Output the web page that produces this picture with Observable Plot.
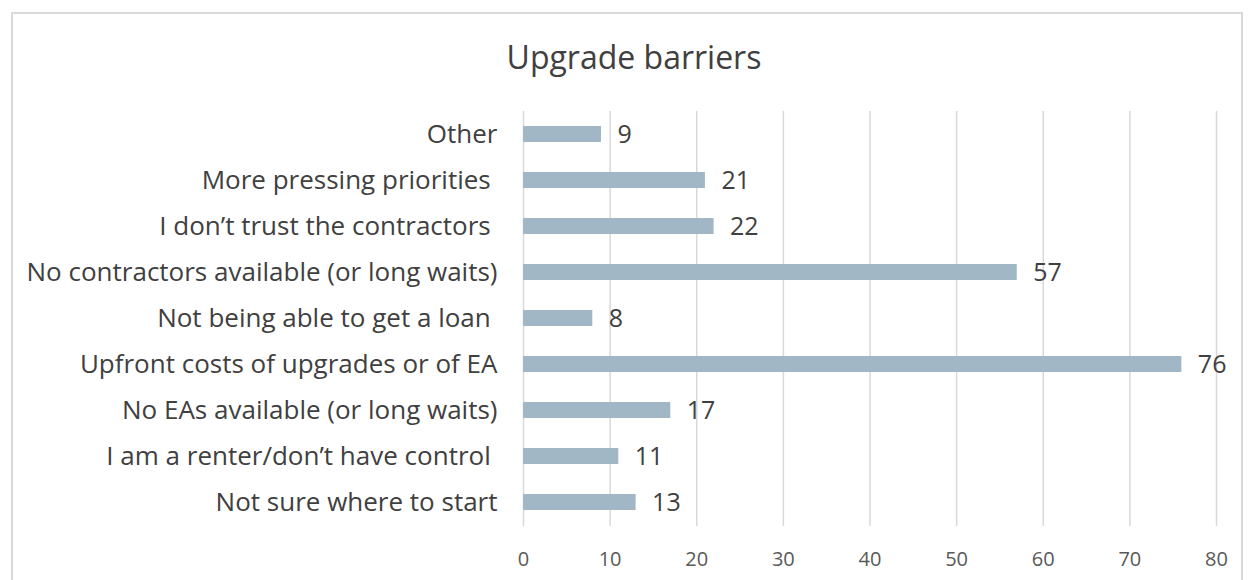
<!DOCTYPE html>
<html>
<head>
<meta charset="utf-8">
<script src="https://cdn.jsdelivr.net/npm/d3@7"></script>
<script src="https://cdn.jsdelivr.net/npm/@observablehq/plot@0.6"></script>
<style>
  html, body { margin: 0; padding: 0; background: #fff; }
  #wrap { position: relative; width: 1248px; height: 580px; overflow: hidden; font-family: "Open Sans", sans-serif; }
  #frame { position: absolute; left: 11px; top: 12px; width: 1232px; height: 600px; border: 2px solid #d9d9d9; box-sizing: border-box; }
  #title { position: absolute; top: 35px; left: 0; width: 1268px; text-align: center; font-size: 32px; line-height: normal; color: #404040; }
  #chart { position: absolute; left: 0; top: 90px; }
  svg text { white-space: pre; }
</style>
</head>
<body>
<div id="wrap">
  <div id="frame"></div>
  <div id="title">Upgrade barriers</div>
  <div id="chart"></div>
</div>
<script>
const categories = [
  "Other",
  "More pressing priorities ",
  "I don\u2019t trust the contractors ",
  "No contractors available (or long waits)",
  "Not being able to get a loan ",
  "Upfront costs of upgrades or of EA",
  "No EAs available (or long waits)",
  "I am a renter/don\u2019t have control ",
  "Not sure where to start"
];
const values = [9, 21, 22, 57, 8, 76, 17, 11, 13];
const xTicks = [0, 10, 20, 30, 40, 50, 60, 70, 80];

const data = categories.map((c, i) => ({category: c, value: values[i]}));

const chart = Plot.plot({
  width: 1248,
  height: 490,
  marginLeft: 523,
  marginRight: 32,
  marginTop: 21,
  marginBottom: 54,
  style: {fontFamily: "'Open Sans', sans-serif", background: "transparent"},
  x: {domain: [0, 80], ticks: xTicks},
  y: {domain: categories, paddingInner: 0.65, paddingOuter: 0.325},
  marks: [
    Plot.ruleX(xTicks, {stroke: "#d9d9d9", strokeWidth: 1.5}),
    Plot.barX(data, {x: "value", y: "category", fill: "#a1b7c6"}),
    Plot.text(data, {x: "value", y: "category", text: d => String(d.value), textAnchor: "start", dx: 16, fontSize: 25, fill: "#404040"}),
    Plot.axisX(xTicks, {tickSize: 0, tickPadding: 25, fontSize: 20, color: "#595959", label: null}),
    Plot.axisY({tickSize: 0, tickPadding: 26, fontSize: 26, color: "#404040", label: null})
  ]
});
document.getElementById("chart").appendChild(chart);
</script>
</body>
</html>
